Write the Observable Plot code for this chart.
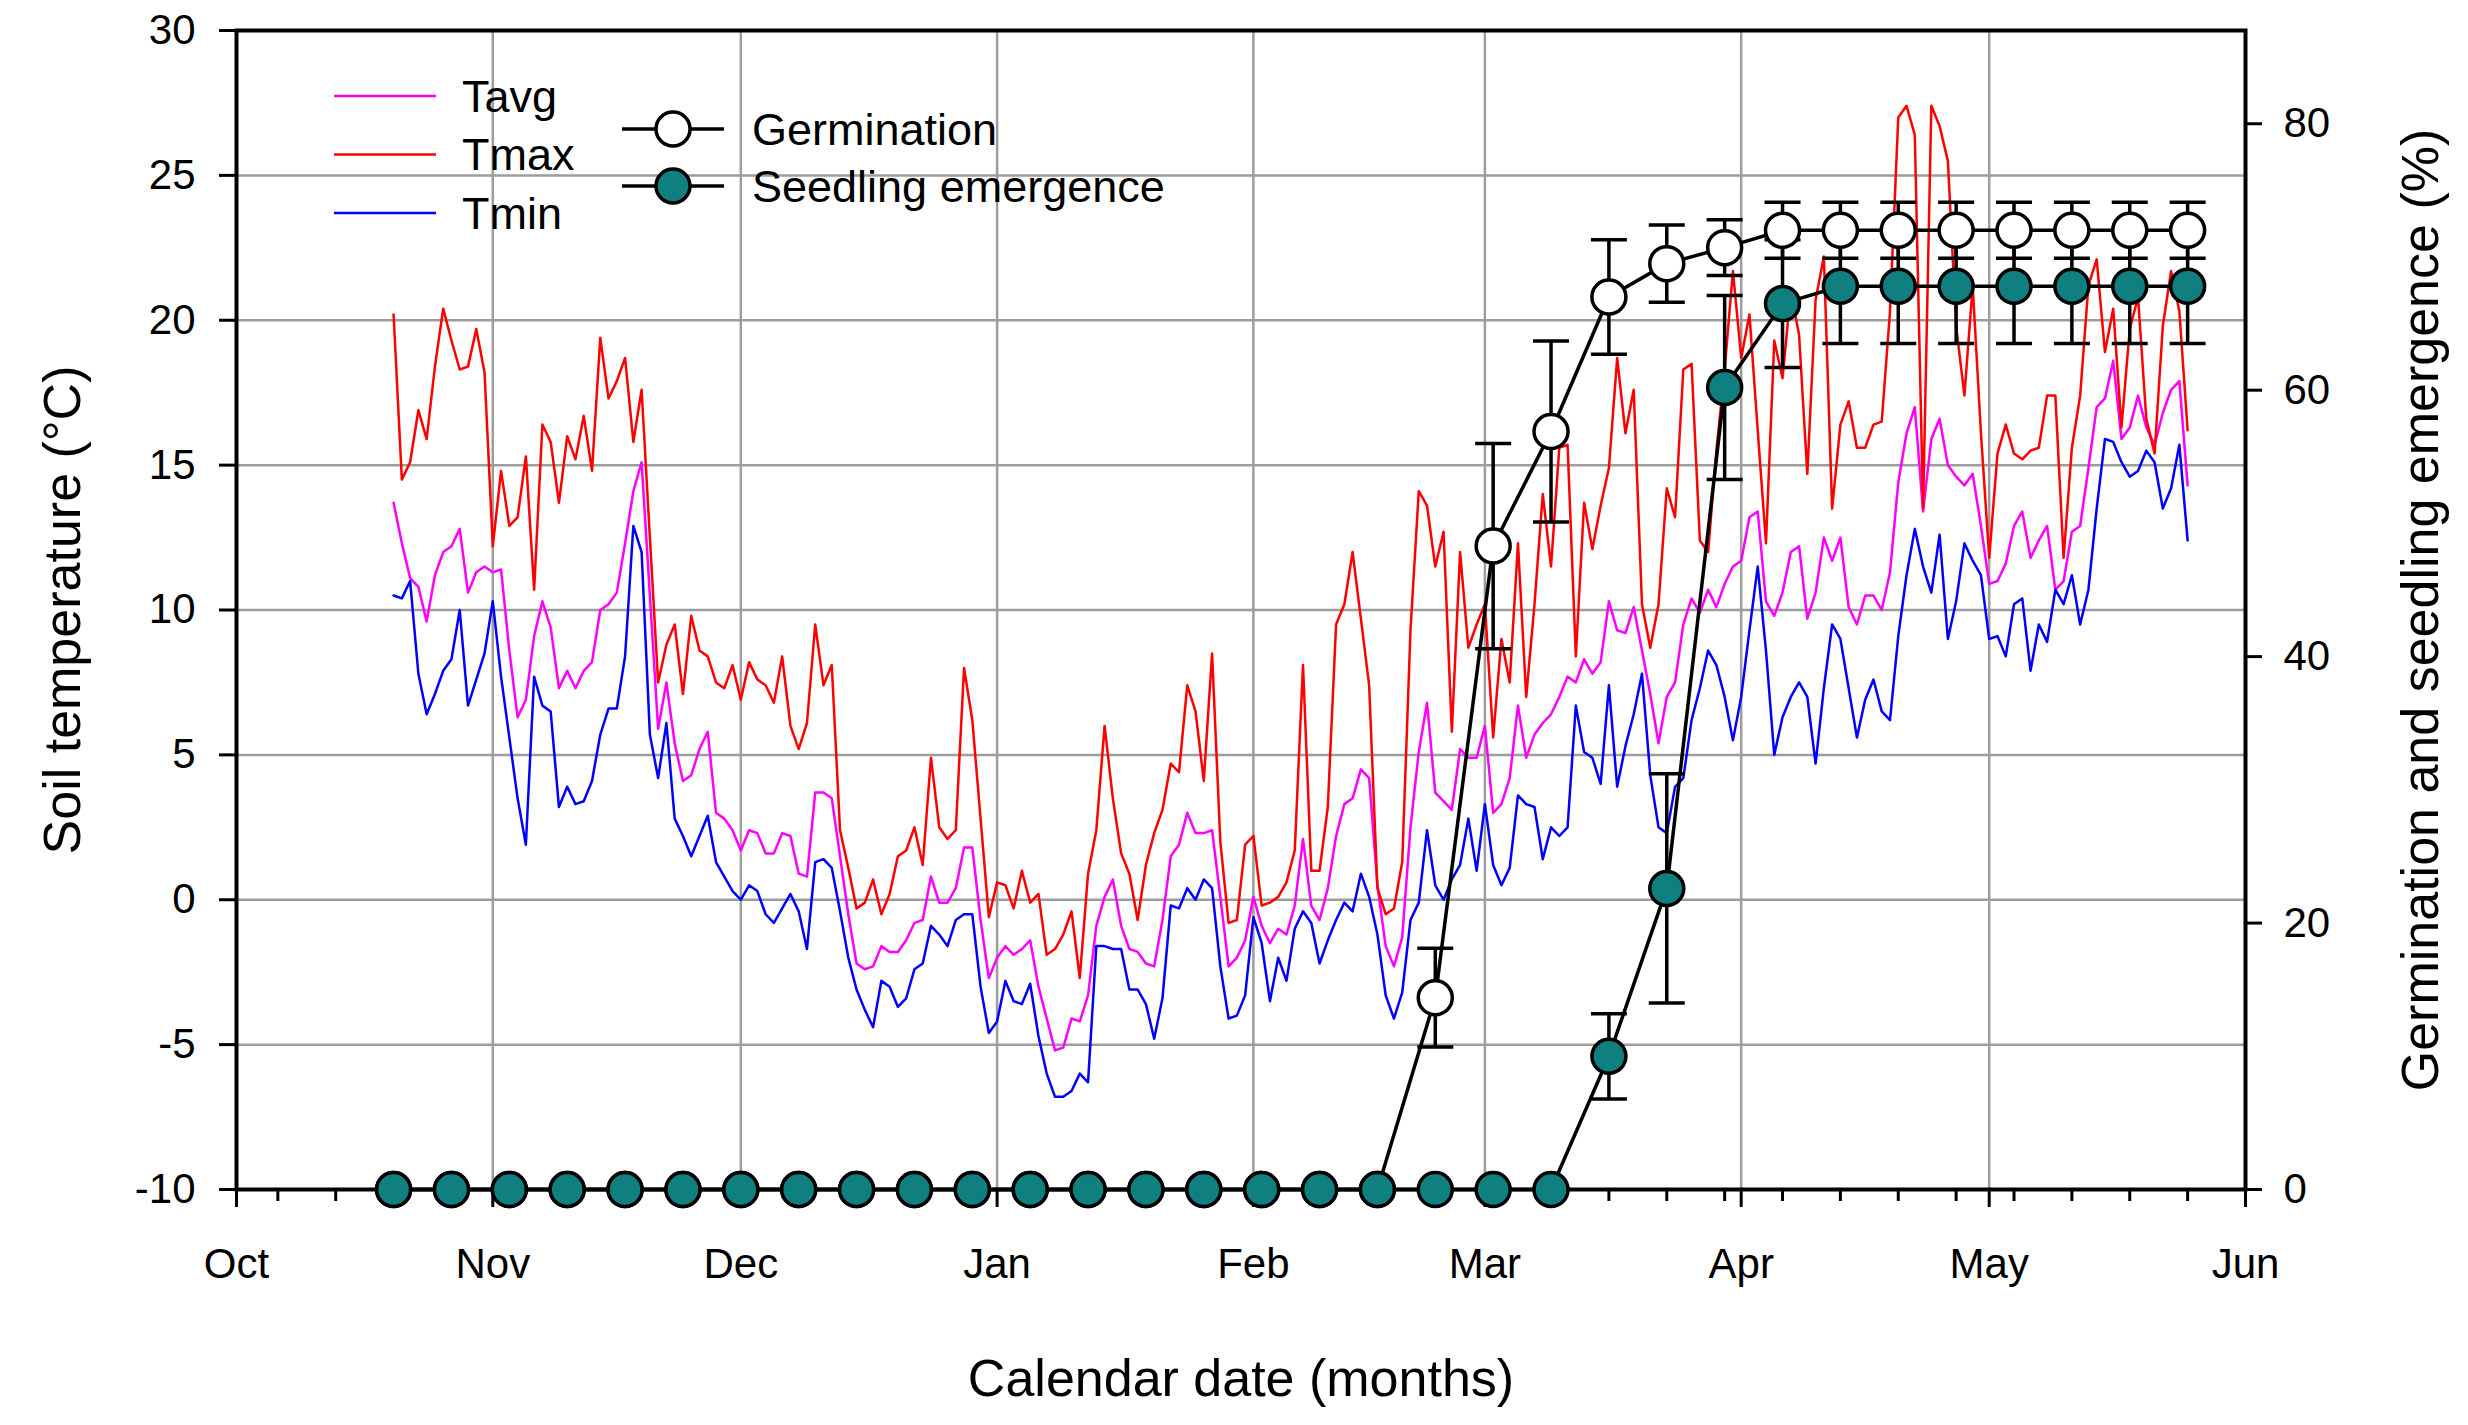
<!DOCTYPE html>
<html lang="en">

<head>
    <meta charset="UTF-8">
    <title>Soil temperature, germination and seedling emergence</title>
    <style>
        body {
            margin: 0;
            padding: 0;
            background-color: #ffffff;
            overflow: hidden;
        }

        #chart svg {
            display: block;
        }
    </style>
</head>

<body>

    <div id="chart"></div>

    <script src="https://cdn.jsdelivr.net/npm/d3@7"></script>
    <script src="https://cdn.jsdelivr.net/npm/@observablehq/plot@0.6"></script>

    <script>
        // daily soil temperature (°C), first value is 20 Oct
        const firstDay = new Date("2018-10-20");

        const tmax = [
            20.2, 14.5, 15.1, 16.9, 15.9, 18.4, 20.4, 19.3, 18.3, 18.4,
            19.7, 18.2, 12.2, 14.8, 12.9, 13.2, 15.3, 10.7, 16.4, 15.8,
            13.7, 16.0, 15.2, 16.7, 14.8, 19.4, 17.3, 17.9, 18.7, 15.8,
            17.6, 12.5, 7.5, 8.8, 9.5, 7.1, 9.8, 8.6, 8.4, 7.5,
            7.3, 8.1, 6.9, 8.2, 7.6, 7.4, 6.8, 8.4, 6.0, 5.2,
            6.1, 9.5, 7.4, 8.1, 2.4, 1.1, -0.3, -0.1, 0.7, -0.5,
            0.2, 1.5, 1.7, 2.5, 1.2, 4.9, 2.5, 2.1, 2.4, 8.0,
            6.2, 2.8, -0.6, 0.6, 0.5, -0.3, 1.0, -0.1, 0.2, -1.9,
            -1.7, -1.2, -0.4, -2.7, 0.9, 2.4, 6.0, 3.5, 1.6, 0.9,
            -0.7, 1.2, 2.3, 3.1, 4.7, 4.4, 7.4, 6.5, 4.1, 8.5,
            2.0, -0.8, -0.7, 1.9, 2.2, -0.2, -0.1, 0.1, 0.6, 1.7,
            8.1, 1.0, 1.0, 3.2, 9.5, 10.2, 12.0, 9.7, 7.4, 0.4,
            -0.5, -0.3, 1.3, 9.3, 14.1, 13.6, 11.5, 12.7, 5.8, 12.0,
            8.7, 9.5, 10.2, 5.6, 9.0, 7.5, 12.3, 7.0, 10.2, 14.0,
            11.5, 15.6, 15.7, 8.4, 13.7, 12.1, 13.6, 14.9, 18.7, 16.1,
            17.6, 10.2, 8.7, 10.2, 14.2, 13.2, 18.3, 18.5, 12.4, 12.0,
            15.5, 18.3, 21.7, 18.7, 20.2, 16.2, 12.3, 19.3, 18.0, 21.0,
            19.5, 14.7, 20.7, 22.2, 13.5, 16.4, 17.2, 15.6, 15.6, 16.4,
            16.5, 20.3, 27.0, 27.4, 26.4, 13.5, 27.4, 26.7, 25.5, 19.8,
            17.4, 21.2, 16.1, 11.8, 15.4, 16.4, 15.4, 15.2, 15.5, 15.6,
            17.4, 17.4, 11.8, 15.6, 17.4, 21.2, 22.1, 18.9, 20.4, 16.3,
            19.7, 20.8, 16.6, 15.4, 19.8, 21.7, 20.3, 16.2
        ];

        const tavg = [
            13.7, 12.3, 11.1, 10.8, 9.6, 11.2, 12.0, 12.2, 12.8, 10.6,
            11.3, 11.5, 11.3, 11.4, 8.6, 6.3, 6.9, 9.1, 10.3, 9.4,
            7.3, 7.9, 7.3, 7.9, 8.2, 10.0, 10.2, 10.6, 12.3, 14.1,
            15.1, 10.5, 5.9, 7.5, 5.4, 4.1, 4.3, 5.2, 5.8, 3.0,
            2.8, 2.4, 1.7, 2.4, 2.3, 1.6, 1.6, 2.3, 2.2, 0.9,
            0.8, 3.7, 3.7, 3.5, 1.5, -0.5, -2.2, -2.4, -2.3, -1.6,
            -1.8, -1.8, -1.4, -0.8, -0.7, 0.8, -0.1, -0.1, 0.4, 1.8,
            1.8, -0.7, -2.7, -2.0, -1.6, -1.9, -1.7, -1.4, -3.0, -4.1,
            -5.2, -5.1, -4.1, -4.2, -3.3, -0.9, 0.1, 0.7, -0.9, -1.7,
            -1.8, -2.2, -2.3, -0.7, 1.5, 1.9, 3.0, 2.3, 2.3, 2.4,
            0.1, -2.3, -2.0, -1.4, 0.1, -0.9, -1.5, -1.0, -1.2, -0.2,
            2.1, -0.2, -0.7, 0.4, 2.2, 3.3, 3.5, 4.5, 4.2, 0.5,
            -1.6, -2.3, -1.3, 2.5, 5.1, 6.8, 3.7, 3.4, 3.1, 5.2,
            4.9, 4.9, 6.0, 3.0, 3.3, 4.2, 6.7, 4.9, 5.7, 6.1,
            6.4, 7.0, 7.7, 7.5, 8.3, 7.8, 8.2, 10.3, 9.3, 9.2,
            10.1, 8.6, 7.1, 5.4, 7.0, 7.5, 9.5, 10.4, 9.9, 10.7,
            10.1, 10.9, 11.5, 11.7, 13.2, 13.4, 10.3, 9.8, 10.6, 12.0,
            12.2, 9.7, 10.6, 12.5, 11.7, 12.5, 10.1, 9.5, 10.5, 10.5,
            10.0, 11.3, 14.4, 16.1, 17.0, 13.4, 15.9, 16.6, 15.0, 14.6,
            14.3, 14.7, 12.9, 10.9, 11.0, 11.6, 12.9, 13.4, 11.8, 12.4,
            12.9, 10.7, 11.0, 12.7, 12.9, 14.9, 17.0, 17.3, 18.6, 15.9,
            16.3, 17.4, 16.3, 15.7, 16.8, 17.6, 17.9, 14.3
        ];

        const tmin = [
            10.5, 10.4, 11.0, 7.8, 6.4, 7.1, 7.9, 8.3, 10.0, 6.7,
            7.6, 8.5, 10.3, 7.7, 5.6, 3.5, 1.9, 7.7, 6.7, 6.5,
            3.2, 3.9, 3.3, 3.4, 4.1, 5.7, 6.6, 6.6, 8.4, 12.9,
            12.0, 5.7, 4.2, 6.1, 2.8, 2.2, 1.5, 2.2, 2.9, 1.3,
            0.8, 0.3, 0.0, 0.5, 0.3, -0.5, -0.8, -0.3, 0.2, -0.4,
            -1.7, 1.3, 1.4, 1.1, -0.4, -2.0, -3.1, -3.8, -4.4, -2.8,
            -3.0, -3.7, -3.4, -2.4, -2.2, -0.9, -1.2, -1.6, -0.7, -0.5,
            -0.5, -3.0, -4.6, -4.2, -2.8, -3.5, -3.6, -2.9, -4.7, -6.0,
            -6.8, -6.8, -6.6, -6.0, -6.3, -1.6, -1.6, -1.7, -1.7, -3.1,
            -3.1, -3.6, -4.8, -3.4, -0.2, -0.3, 0.4, 0.0, 0.7, 0.4,
            -2.3, -4.1, -4.0, -3.3, -0.6, -1.5, -3.5, -2.0, -2.8, -1.0,
            -0.4, -0.8, -2.2, -1.4, -0.7, -0.1, -0.4, 0.9, 0.1, -1.2,
            -3.3, -4.1, -3.2, -0.7, -0.1, 2.4, 0.5, 0.0, 0.7, 1.2,
            2.8, 1.0, 3.3, 1.2, 0.5, 1.1, 3.6, 3.3, 3.2, 1.4,
            2.5, 2.2, 2.5, 6.7, 5.1, 4.9, 4.0, 7.4, 3.9, 5.3,
            6.4, 7.8, 4.3, 2.5, 2.3, 3.9, 4.2, 6.2, 7.3, 8.6,
            8.1, 7.0, 5.5, 7.0, 9.3, 11.5, 8.6, 5.0, 6.3, 7.0,
            7.5, 7.0, 4.7, 7.3, 9.5, 9.0, 7.3, 5.6, 6.9, 7.6,
            6.5, 6.2, 9.1, 11.2, 12.8, 11.5, 10.6, 12.6, 9.0, 10.3,
            12.3, 11.7, 11.2, 9.0, 9.1, 8.4, 10.2, 10.4, 7.9, 9.5,
            8.9, 10.7, 10.2, 11.2, 9.5, 10.7, 13.5, 15.9, 15.8, 15.1,
            14.6, 14.8, 15.5, 15.1, 13.5, 14.2, 15.7, 12.4
        ];

        // weekly counts (%) from the same first day, mean and error
        const germination = [
            0, 0, 0, 0, 0, 0, 0, 0, 0, 0, 0, 0, 0, 0, 0, 0, 0, 0,
            14.4, 48.3, 56.9, 67.0, 69.5, 70.7,
            72.0, 72.0, 72.0, 72.0, 72.0, 72.0, 72.0, 72.0
        ];
        const germinationErr = [
            0, 0, 0, 0, 0, 0, 0, 0, 0, 0, 0, 0, 0, 0, 0, 0, 0, 0,
            3.7, 7.7, 6.8, 4.3, 2.9, 2.1,
            2.1, 2.1, 2.1, 2.1, 2.1, 2.1, 2.1, 2.1
        ];
        const emergence = [
            0, 0, 0, 0, 0, 0, 0, 0, 0, 0, 0, 0, 0, 0, 0, 0, 0, 0, 0, 0, 0,
            10.0, 22.6, 60.2, 66.5,
            67.8, 67.8, 67.8, 67.8, 67.8, 67.8, 67.8
        ];
        const emergenceErr = [
            0, 0, 0, 0, 0, 0, 0, 0, 0, 0, 0, 0, 0, 0, 0, 0, 0, 0, 0, 0, 0,
            3.2, 8.6, 6.9, 4.8,
            4.3, 4.3, 4.3, 4.3, 4.3, 4.3, 4.3
        ];

        const monthTicks = [
            "2018-10-01", "2018-11-01", "2018-12-01", "2019-01-01", "2019-02-01",
            "2019-03-01", "2019-04-01", "2019-05-01", "2019-06-01"
        ];
        const tempTicks = [-10, -5, 0, 5, 10, 15, 20, 25, 30];
        const percentTicks = [0, 20, 40, 60, 80];
        const percentTop = 87; // percent reached at the top of the frame

        const font = "'Liberation Sans', Arial, sans-serif";
        const teal = "#0f7f7f";

        // percent -> temperature units, so both share one y scale
        const toTemp = p => -10 + p * 40 / percentTop;
        const dayAfter = n => d3.utcDay.offset(firstDay, n);
        const months = monthTicks.map(s => new Date(s));
        const weeks = d3.utcSaturdays(months[0], d3.utcDay.offset(months[months.length - 1], 1));

        const temps = [
            { name: "Tavg", values: tavg },
            { name: "Tmax", values: tmax },
            { name: "Tmin", values: tmin }
        ].flatMap(s => s.values.map((v, i) => ({ date: dayAfter(i), value: v, series: s.name })));

        function weekly(values, err) {
            return values.map((v, i) => ({
                date: dayAfter(i * 7),
                y: toTemp(v),
                lo: toTemp(v - err[i]),
                hi: toTemp(v + err[i]),
                err: err[i]
            }));
        }
        const germ = weekly(germination, germinationErr);
        const emerg = weekly(emergence, emergenceErr);

        // horizontal cap for the error bars
        const cap = {
            draw(context) {
                context.moveTo(-18, 0);
                context.lineTo(18, 0);
            }
        };

        function errorBars(data) {
            const bars = data.filter(d => d.err > 0);
            return [
                Plot.ruleX(bars, { x: "date", y1: "lo", y2: "hi", stroke: "black", strokeWidth: 3.5 }),
                Plot.dot(bars, { x: "date", y: "lo", symbol: cap, stroke: "black", strokeWidth: 3.5 }),
                Plot.dot(bars, { x: "date", y: "hi", symbol: cap, stroke: "black", strokeWidth: 3.5 })
            ];
        }

        const chart = Plot.plot({
            width: 2468,
            height: 1425,
            marginLeft: 236,
            marginRight: 223,
            marginTop: 30,
            marginBottom: 236,
            style: { fontFamily: font, fontSize: "42px", color: "black", background: "white" },
            x: { type: "utc", domain: [months[0], months[months.length - 1]] },
            y: { domain: [-10, 30] },
            color: { domain: ["Tavg", "Tmax", "Tmin"], range: ["#ff00ff", "#ff0000", "#0000ff"] },
            marks: [
                Plot.gridY({ ticks: tempTicks.slice(1, -1), stroke: "#9d9d9d", strokeOpacity: 1, strokeWidth: 2.5 }),
                Plot.gridX({ ticks: months.slice(1, -1), stroke: "#9d9d9d", strokeOpacity: 1, strokeWidth: 2.5 }),
                Plot.line(temps, { x: "date", y: "value", z: "series", stroke: "series", strokeWidth: 2.5 }),
                Plot.frame({ stroke: "black", strokeWidth: 4 }),
                Plot.axisY({
                    ticks: tempTicks, tickFormat: d => String(d),
                    tickSize: 17, tickPadding: 24, strokeWidth: 3, fontSize: 42, label: null
                }),
                Plot.axisY({
                    anchor: "right",
                    ticks: percentTicks.map(toTemp),
                    tickFormat: t => String(Math.round((t + 10) * percentTop / 40)),
                    tickSize: 16, tickPadding: 22, strokeWidth: 3, fontSize: 42, label: null
                }),
                Plot.axisX({ ticks: weeks, tickFormat: () => "", tickSize: 12, strokeWidth: 3, label: null }),
                Plot.axisX({
                    ticks: months, tickFormat: d3.utcFormat("%b"),
                    tickSize: 18, tickPadding: 41, strokeWidth: 3, fontSize: 42, label: null
                }),
                Plot.line(emerg, { x: "date", y: "y", stroke: "black", strokeWidth: 3.5 }),
                ...errorBars(emerg),
                Plot.line(germ, { x: "date", y: "y", stroke: "black", strokeWidth: 3.5 }),
                ...errorBars(germ),
                Plot.dot(germ, { x: "date", y: "y", r: 17, fill: "white", stroke: "black", strokeWidth: 3.5 }),
                Plot.dot(emerg, { x: "date", y: "y", r: 17, fill: teal, stroke: "black", strokeWidth: 3.5 }),
                Plot.text(["Soil temperature (°C)"], {
                    text: d => d, frameAnchor: "left", dx: -173, rotate: -90,
                    textAnchor: "middle", lineAnchor: "middle", fontSize: 52
                }),
                Plot.text(["Germination and seedling emergence (%)"], {
                    text: d => d, frameAnchor: "right", dx: 176, rotate: -90,
                    textAnchor: "middle", lineAnchor: "middle", fontSize: 52
                }),
                Plot.text(["Calendar date (months)"], {
                    text: d => d, frameAnchor: "bottom", dy: 190,
                    textAnchor: "middle", lineAnchor: "middle", fontSize: 52
                })
            ]
        });

        document.querySelector("#chart").append(chart);

        // legend, drawn into the same svg
        const legend = d3.select(chart).append("g")
            .attr("font-family", font)
            .attr("font-size", 45)
            .attr("text-anchor", "start")
            .attr("fill", "black");

        [["Tavg", "#ff00ff"], ["Tmax", "#ff0000"], ["Tmin", "#0000ff"]].forEach(([name, color], i) => {
            const y = 96 + i * 58.5;
            legend.append("line")
                .attr("x1", 334).attr("x2", 436).attr("y1", y).attr("y2", y)
                .attr("stroke", color).attr("stroke-width", 2.5);
            legend.append("text")
                .attr("x", 462).attr("y", y).attr("dy", "0.35em")
                .text(name);
        });

        [["Germination", "white"], ["Seedling emergence", teal]].forEach(([name, fill], i) => {
            const y = 129 + i * 57;
            legend.append("line")
                .attr("x1", 622).attr("x2", 724).attr("y1", y).attr("y2", y)
                .attr("stroke", "black").attr("stroke-width", 3.5);
            legend.append("circle")
                .attr("cx", 673).attr("cy", y).attr("r", 17)
                .attr("fill", fill).attr("stroke", "black").attr("stroke-width", 3.5);
            legend.append("text")
                .attr("x", 752).attr("y", y).attr("dy", "0.35em")
                .text(name);
        });
    </script>

</body>

</html>
